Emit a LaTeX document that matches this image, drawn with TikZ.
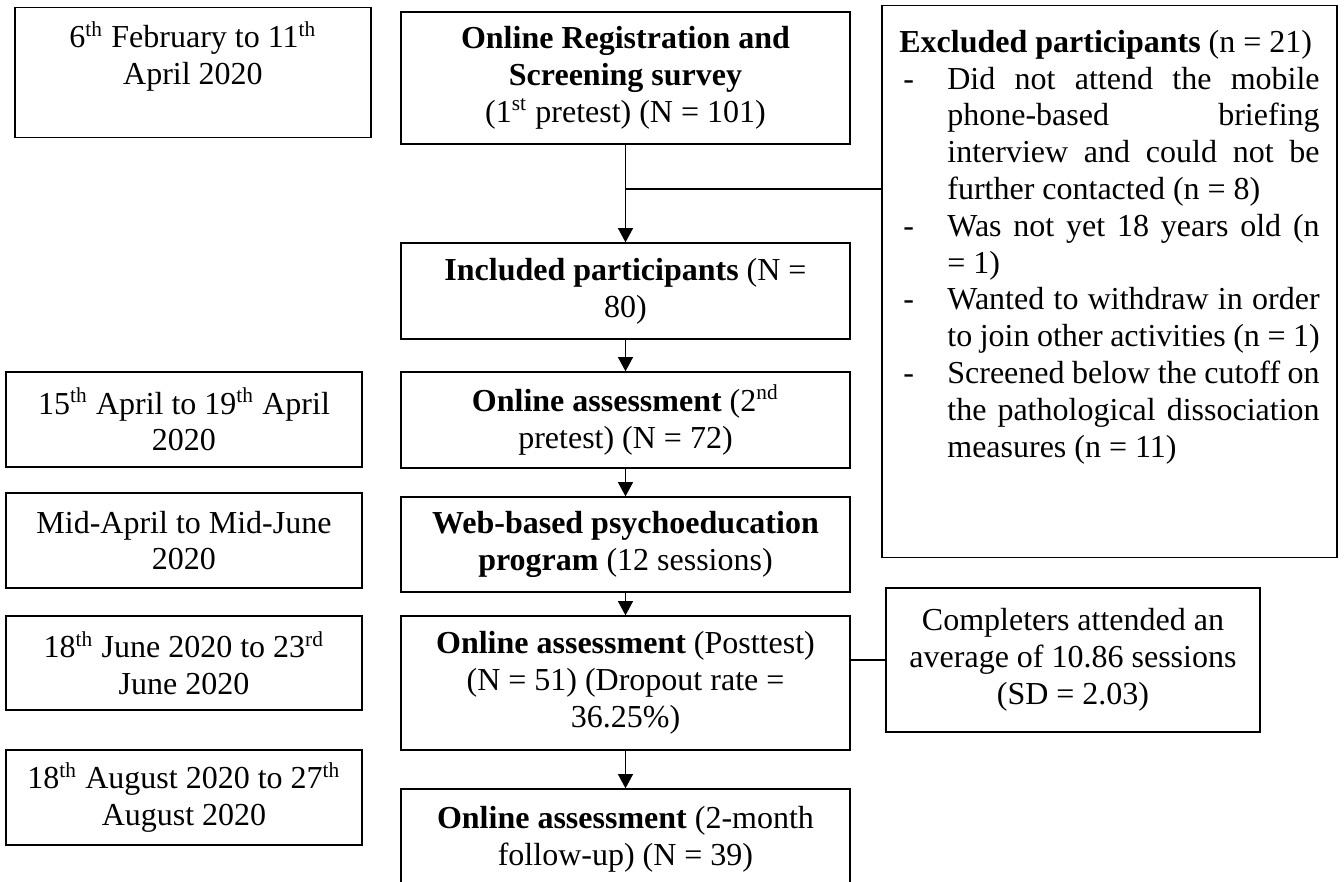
\documentclass[tikz,border=0pt]{standalone}
\usepackage{fontspec}
\setmainfont{Liberation Serif}
\usetikzlibrary{arrows.meta}

\newcommand{\exitem}[1]{\par\hangindent=18pt\hangafter=1\noindent\makebox[18pt][l]{\hspace{1.5pt}-}#1\par}

\begin{document}
\begin{tikzpicture}[x=0.375pt, y=-0.375pt, >={Triangle[width=5.6pt,length=5.3pt]},
    box/.style={draw, line width=0.5pt, align=center, font=\fontsize{12}{13.8}\selectfont, inner sep=2pt},
    datebox/.style={box, minimum width=133.5pt, minimum height=35.6pt},
    stepbox/.style={box, minimum width=168.4pt, minimum height=36pt},
    topbox/.style={box, anchor=north, text height=9pt},
    link/.style={line width=0.45pt}]
    \useasboundingbox (0,0) rectangle (1344,882);
    \clip (0,0) rectangle (1344,882);

    % Tidslinje
    \node[topbox, text width=129.5pt, align=flush center, inner ysep=6pt, text depth=27.75pt] (d1) at (193,7)
      {6\textsuperscript{th} February to 11\textsuperscript{th}\\ April 2020};
    \node[datebox] (d2) at (184,419.5) {15\textsuperscript{th} April to 19\textsuperscript{th} April\\ 2020};
    \node[datebox] (d3) at (184,540.5) {Mid-April to Mid-June\\ 2020};
    \node[datebox, minimum height=35.25pt] (d4) at (184,663) {18\textsuperscript{th} June 2020 to 23\textsuperscript{rd}\\ June 2020};
    \node[datebox] (d5) at (184,797.5) {18\textsuperscript{th} August 2020 to 27\textsuperscript{th}\\ August 2020};

    % Hovedløp
    \node[stepbox, minimum height=49.5pt] (reg) at (625.5,78)
      {\textbf{Online Registration and}\\ \textbf{Screening survey}\\ (1\textsuperscript{st} pretest) (N = 101)};
    \node[stepbox] (incl) at (625.5,291) {\textbf{Included participants} (N =\\ 80)};
    \node[stepbox] (pre2) at (625.5,420) {\textbf{Online assessment} (2\textsuperscript{nd}\\ pretest) (N = 72)};
    \node[stepbox, minimum height=35.6pt] (web) at (625.5,544.5) {\textbf{Web-based psychoeducation}\\ \textbf{program} (12 sessions)};
    \node[stepbox, minimum height=50.25pt] (post) at (625.5,683) {\textbf{Online assessment} (Posttest)\\ (N = 51) (Dropout rate =\\ 36.25\%)};
    \node[stepbox, minimum height=37.5pt] (fup) at (625.5,839) {\textbf{Online assessment} (2-month\\ follow-up) (N = 39)};

    % Sidebokser
    \node[topbox, text width=157.6pt, align=justify, inner xsep=6.5pt, inner ysep=8.5pt, text depth=181pt] (excl) at (1109.5,5)
      {\textbf{Excluded participants} (n = 21)
       \exitem{Did not attend the mobile\linebreak phone-based briefing\linebreak interview and could not be\linebreak further contacted (n = 8)}
       \exitem{Was not yet 18 years old (n\linebreak = 1)}
       \exitem{Wanted to withdraw in order\linebreak to join other activities (n = 1)}
       \exitem{Screened below the cutoff on\linebreak the pathological dissociation\linebreak measures (n = 11)}};
    \node[box, minimum width=140.25pt, minimum height=54pt] (comp) at (1073,660)
      {Completers attended an\\ average of 10.86 sessions\\ (SD = 2.03)};

    % Piler
    \coordinate (split) at (625.5,189);
    \draw[link, ->] (reg) -- (incl);
    \draw[link] (split) -- (split -| excl.west);
    \draw[link, ->] (incl) -- (pre2);
    \draw[link, ->] (pre2) -- (web);
    \draw[link, ->] (web) -- (post);
    \draw[link] (post.east |- comp.west) -- (comp.west);
    \draw[link, ->] (post) -- (fup);
\end{tikzpicture}
\end{document}
